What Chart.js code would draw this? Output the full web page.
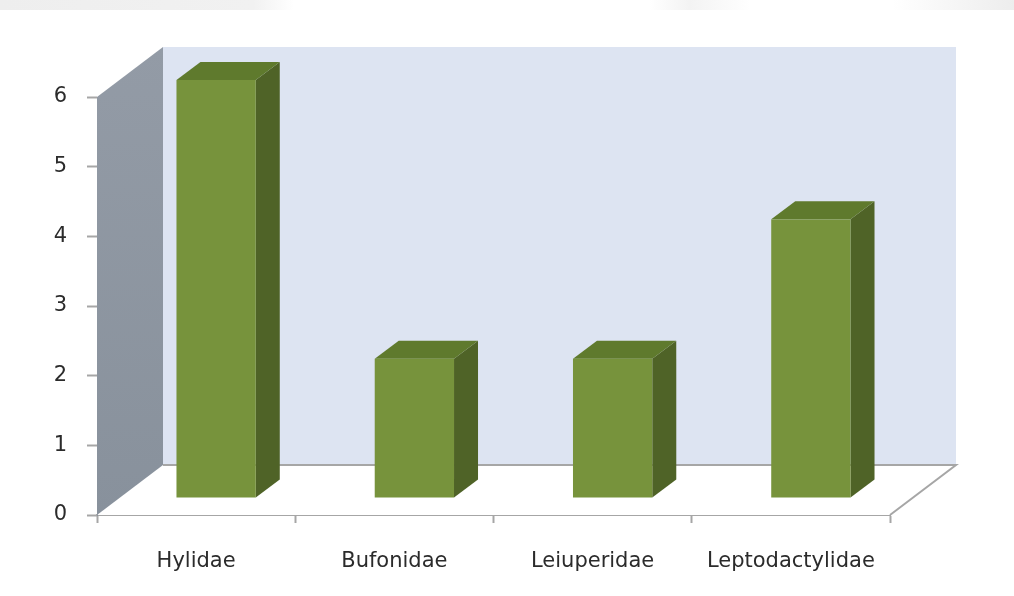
<!DOCTYPE html>
<html>
<head>
<meta charset="utf-8">
<script src="https://cdn.jsdelivr.net/npm/chart.js@4.4.1/dist/chart.umd.min.js"></script>
<style>
  html, body { margin: 0; padding: 0; background: #fff; }
  #wrap { position: relative; width: 1014px; height: 596px; }
  #haze {
    position: absolute; left: 0; top: 0; width: 1014px; height: 10px;
    background: linear-gradient(90deg, #eeeeee 0%, #f1f1f1 25%, #ffffff 29%, #ffffff 64%, #f3f3f3 68%, #ffffff 74%, #ffffff 88%, #ededed 100%);
  }
</style>
</head>
<body>
<div id="wrap">
  <canvas id="familyChart" width="1014" height="596"></canvas>
  <div id="haze"></div>
</div>
<script>
// Species count per family
const families = ["Hylidae", "Bufonidae", "Leiuperidae", "Leptodactylidae"];
const speciesCount = [6, 2, 2, 4];
const yTicks = [0, 1, 2, 3, 4, 5, 6];

// Depth of the floor/walls and of each box
const WALL_DX = 66, WALL_DY = -50;
const BAR_OX = 20, BAR_OY = -17;
const BAR_DX = 24, BAR_DY = -18;

// Draws the walls and floor behind the bars, then the bars as boxes
const box3d = {
  id: "box3d",
  beforeDatasetsDraw(chart) {
    const { ctx, chartArea: a } = chart;
    const L = a.left, R = a.right, T = a.top, B = a.bottom;
    ctx.save();

    // back wall
    ctx.fillStyle = "#dde4f2";
    ctx.fillRect(L + WALL_DX, T + WALL_DY, R - L, B - T);

    // floor
    ctx.beginPath();
    ctx.moveTo(L, B);
    ctx.lineTo(R, B);
    ctx.lineTo(R + WALL_DX, B + WALL_DY);
    ctx.lineTo(L + WALL_DX, B + WALL_DY);
    ctx.closePath();
    ctx.fillStyle = "#ffffff";
    ctx.fill();
    ctx.strokeStyle = "#a6a6a6";
    ctx.lineWidth = 2;
    ctx.beginPath();
    ctx.moveTo(L + WALL_DX, B + WALL_DY);
    ctx.lineTo(R + WALL_DX, B + WALL_DY);
    ctx.lineTo(R, B);
    ctx.stroke();

    // left side wall
    const g = ctx.createLinearGradient(0, T + WALL_DY, 0, B);
    g.addColorStop(0, "#939ba6");
    g.addColorStop(1, "#88919c");
    ctx.beginPath();
    ctx.moveTo(L, T);
    ctx.lineTo(L + WALL_DX, T + WALL_DY);
    ctx.lineTo(L + WALL_DX, B + WALL_DY);
    ctx.lineTo(L, B);
    ctx.closePath();
    ctx.fillStyle = g;
    ctx.fill();
    ctx.restore();
  },
  afterDatasetsDraw(chart) {
    const { ctx } = chart;
    const meta = chart.getDatasetMeta(0);
    ctx.save();
    meta.data.forEach((bar) => {
      const x0 = bar.x - bar.width / 2 + BAR_OX;
      const x1 = bar.x + bar.width / 2 + BAR_OX;
      const top = bar.y + BAR_OY;
      const base = bar.base + BAR_OY;

      // side
      ctx.beginPath();
      ctx.moveTo(x1, top);
      ctx.lineTo(x1 + BAR_DX, top + BAR_DY);
      ctx.lineTo(x1 + BAR_DX, base + BAR_DY);
      ctx.lineTo(x1, base);
      ctx.closePath();
      ctx.fillStyle = "#4f6327";
      ctx.fill();

      // top
      ctx.beginPath();
      ctx.moveTo(x0, top);
      ctx.lineTo(x0 + BAR_DX, top + BAR_DY);
      ctx.lineTo(x1 + BAR_DX, top + BAR_DY);
      ctx.lineTo(x1, top);
      ctx.closePath();
      ctx.fillStyle = "#5f7a2d";
      ctx.fill();

      // front
      ctx.fillStyle = "#77933c";
      ctx.fillRect(x0, top, x1 - x0, base - top);
    });
    ctx.restore();
  }
};

const ctx = document.getElementById("familyChart").getContext("2d");
const familyChart = new Chart(ctx, {
  type: "bar",
  data: {
    labels: families,
    datasets: [{
      data: speciesCount,
      backgroundColor: "rgba(0,0,0,0)",
      barPercentage: 0.4,
      categoryPercentage: 1.0,
    }],
  },
  options: {
    responsive: false,
    animation: false,
    layout: { padding: { left: 0, top: 97, right: 124, bottom: 0 } },
    plugins: {
      legend: { display: false },
      tooltip: { enabled: false },
    },
    scales: {
      x: {
        grid: {
          offset: true,
          drawOnChartArea: false,
          tickLength: 8,
          tickColor: "#a6a6a6",
          tickWidth: 2,
        },
        border: { color: "#a6a6a6", width: 2 },
        ticks: {
          color: "#2b2b2b",
          padding: 26,
          font: { family: "DejaVu Sans", size: 21 },
        },
        afterFit(scale) { scale.height = 81; },
      },
      y: {
        min: 0,
        max: 6,
        afterBuildTicks(scale) { scale.ticks = yTicks.map((v) => ({ value: v })); },
        grid: {
          drawOnChartArea: false,
          tickLength: 10,
          tickColor: "#a6a6a6",
          tickWidth: 2,
        },
        border: { color: "#8b939e", width: 1 },
        ticks: {
          color: "#2b2b2b",
          padding: 20,
          font: { family: "DejaVu Sans", size: 21 },
        },
        afterFit(scale) { scale.width = 97; },
      },
    },
  },
  plugins: [box3d],
});
</script>
</body>
</html>
